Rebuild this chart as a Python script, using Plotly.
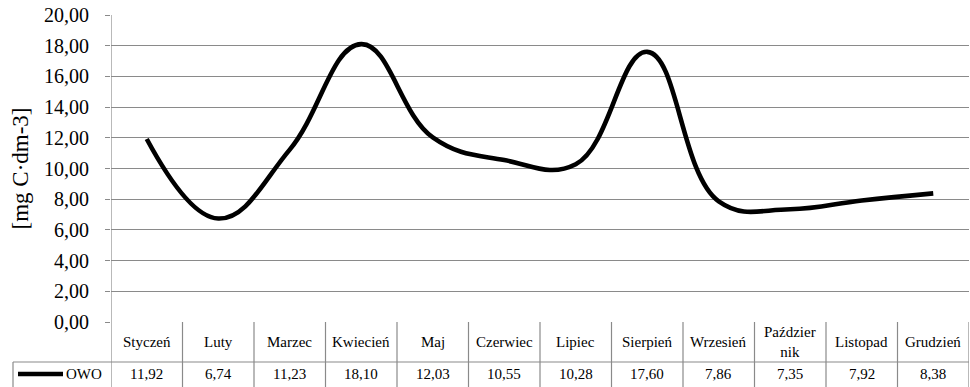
import plotly.graph_objects as go

# Monthly OWO concentration
months = ["Styczeń", "Luty", "Marzec", "Kwiecień", "Maj", "Czerwiec", "Lipiec",
          "Sierpień", "Wrzesień", "Październik", "Listopad", "Grudzień"]
owo = [11.92, 6.74, 11.23, 18.10, 12.03, 10.55, 10.28, 17.60, 7.86, 7.35, 7.92, 8.38]
series_name = "OWO"
y_title = "[mg C·dm-3]"
y_ticks = [0, 2, 4, 6, 8, 10, 12, 14, 16, 18, 20]

W, H = 970, 387
M_L, M_R, M_T, M_B = 111, 1, 15, 65
plot_h = H - M_T - M_B
plot_w = W - M_L - M_R

GRID = "#8a8a8a"
FONT = "Liberation Serif"


def py(px_from_bottom_of_plot):
    """Paper y for a pixel offset below the plot area bottom."""
    return -px_from_bottom_of_plot / plot_h


def px_x(px):
    return (px - M_L) / plot_w


def wrap(name, width=9):
    return name if len(name) <= width else name[:8] + "<br>" + name[8:]


def fmt(v):
    return f"{v:.2f}".replace(".", ",")


xs = list(range(len(months)))

fig = go.Figure()
fig.add_trace(go.Scatter(
    x=xs, y=owo, name=series_name, mode="lines",
    line=dict(color="black", width=4.6, shape="spline", smoothing=1.2),
    showlegend=False, hoverinfo="skip",
))

row1 = 40   # category row height (px)
row2 = 24   # value row height (px)
bottom = row1 + row2 + 2

shapes = []
# category column separators (the first one doubles as the value axis line)
for i in range(len(months) + 1):
    x = i - 0.5
    y1 = 1 if i == 0 else 0
    shapes.append(dict(type="line", xref="x", yref="paper", x0=x, x1=x,
                       y0=py(bottom), y1=y1, line=dict(color=GRID, width=1.2)))
# row separator between categories and values
shapes.append(dict(type="line", xref="paper", yref="paper",
                   x0=px_x(13), x1=1, y0=py(row1), y1=py(row1),
                   line=dict(color=GRID, width=1.2)))
# legend cell left border
shapes.append(dict(type="line", xref="paper", yref="paper",
                   x0=px_x(13), x1=px_x(13), y0=py(bottom), y1=py(row1),
                   line=dict(color=GRID, width=1.2)))
# legend key
shapes.append(dict(type="line", xref="paper", yref="paper",
                   x0=px_x(18), x1=px_x(63), y0=py(row1 + 12), y1=py(row1 + 12),
                   line=dict(color="black", width=4.6)))

annotations = []
for i, (m, v) in enumerate(zip(months, owo)):
    annotations.append(dict(x=i, y=py(row1 / 2), xref="x", yref="paper",
                            text=wrap(m), showarrow=False,
                            font=dict(family=FONT, size=15, color="black"),
                            xanchor="center", yanchor="middle"))
    annotations.append(dict(x=i, y=py(row1 + 12), xref="x", yref="paper",
                            text=fmt(v), showarrow=False,
                            font=dict(family=FONT, size=15, color="black"),
                            xanchor="center", yanchor="middle"))
annotations.append(dict(x=px_x(64), y=py(row1 + 12), xref="paper", yref="paper",
                        text=series_name, showarrow=False,
                        font=dict(family=FONT, size=15, color="black"),
                        xanchor="left", yanchor="middle"))
annotations.append(dict(x=px_x(20), y=0.5, xref="paper", yref="paper",
                        text=y_title, showarrow=False, textangle=-90,
                        font=dict(family=FONT, size=23, color="black"),
                        xanchor="center", yanchor="middle"))

fig.update_layout(
    width=W, height=H,
    margin=dict(l=M_L, r=M_R, t=M_T, b=M_B),
    paper_bgcolor="white", plot_bgcolor="white",
    font=dict(family=FONT, color="black"),
    separators=", ",
    shapes=shapes, annotations=annotations,
    xaxis=dict(range=[-0.5, len(months) - 0.5], showgrid=False,
               showticklabels=False, zeroline=False, ticks="", showline=False),
    yaxis=dict(range=[0, 20], tickvals=y_ticks, tickformat=".2f",
               showgrid=True, gridcolor=GRID, gridwidth=1.2, zeroline=False,
               showline=False, ticks="outside", ticklen=5, tickcolor=GRID,
               tickwidth=1.2, ticklabelstandoff=12,
               tickfont=dict(family=FONT, size=20, color="black")),
)

fig.write_html("out.html")
